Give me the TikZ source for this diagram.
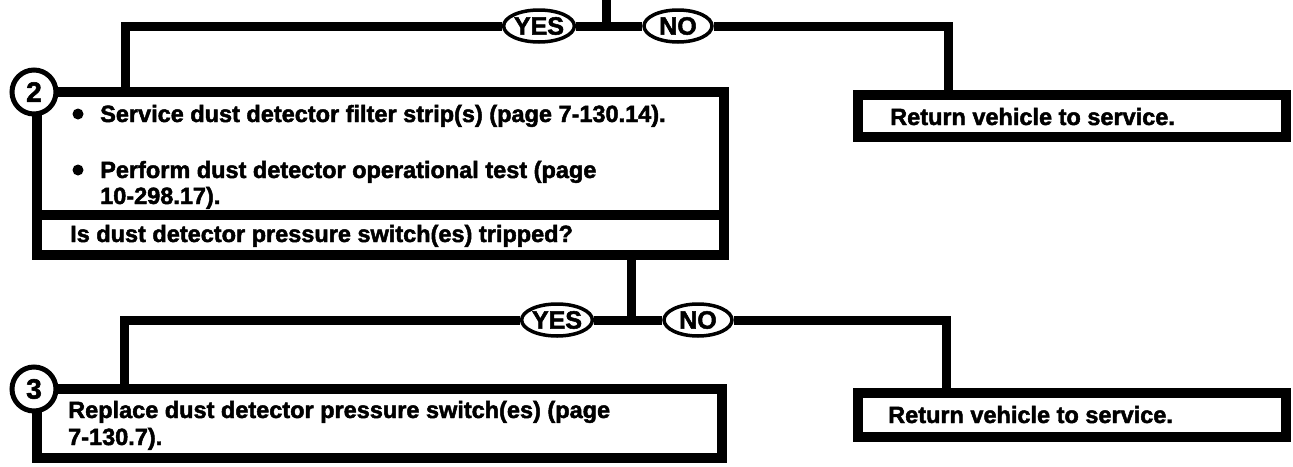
\documentclass[tikz,border=0pt]{standalone}
\usepackage{fontspec}
\setmainfont{Liberation Sans}[BoldFeatures={FakeBold=2}]
\usetikzlibrary{shapes.geometric}
\begin{document}
\begin{tikzpicture}[x=1pt,y=-1pt,
  conn/.style={line width=9pt, line join=miter},
  box/.style={draw, rectangle, line width=10pt, inner sep=0pt},
  txt/.style={font=\fontsize{23.5}{26}\selectfont\bfseries, inner sep=0pt, anchor=base west},
  bul/.style={circle, fill=black, inner sep=0pt, minimum size=11pt},
  dec/.style={ellipse, draw, line width=3.5pt, fill=white, minimum width=68pt, minimum height=32pt, inner sep=0pt, font=\fontsize{25}{26}\selectfont\bfseries},
  num/.style={circle, draw, line width=5pt, fill=white, minimum size=44pt, inner sep=0pt, font=\fontsize{28}{28}\selectfont\bfseries}]
\useasboundingbox[fill=white] (0,0) rectangle (1293,466);

% boxes
\node[box, minimum width=687pt, minimum height=123pt] (box2) at (380.5,153.5) {};
\node[box, minimum width=687pt, minimum height=40pt] (q2) at (380.5,235) {};
\node[box, minimum width=428pt, minimum height=42pt] (ret1) at (1072,116) {};
\node[box, minimum width=685pt, minimum height=69pt] (box3) at (379.5,423.5) {};
\node[box, minimum width=428pt, minimum height=44pt] (ret2) at (1072,415) {};

% texts
\node[bul] (b2a) at (78,114) {};
\node[txt] (t2a) at (100,122) {Service dust detector filter strip(s) (page 7-130.14).};
\node[bul] (b2b) at (78,170) {};
\node[txt] (t2b) at (100,178) {Perform dust detector operational test (page};
\node[txt] (t2c) at (100,204) {10-298.17).};
\node[txt] (tq2) at (70,242) {Is dust detector pressure switch(es) tripped?};
\node[txt] (tr1) at (890,125) {Return vehicle to service.};
\node[txt] (t3a) at (68,418) {Replace dust detector pressure switch(es) (page};
\node[txt] (t3b) at (68,445) {7-130.7).};
\node[txt] (tr2) at (888,423) {Return vehicle to service.};

% decisions
\node[dec] (yes1) at (539,26) {YES};
\node[dec] (no1) at (678,26) {NO};
\node[dec] (yes2) at (557,320) {YES};
\node[dec] (no2) at (698,320) {NO};

% connector coordinates
\coordinate (in1) at (606,0);
\coordinate (j1) at (606,26);
\coordinate (b2in) at (125,92);
\coordinate (r1in) at (948,95);
\coordinate (j2top) at (631,255);
\coordinate (j2) at (631,320);
\coordinate (b3in) at (124,389);
\coordinate (r2in) at (946,393);

\draw[conn] (in1) -- (j1);
\draw[conn] (yes1.east) -- (no1.west);
\draw[conn] (yes1.west) -| (b2in);
\draw[conn] (no1.east) -| (r1in);
\draw[conn] (j2top) -- (j2);
\draw[conn] (yes2.east) -- (no2.west);
\draw[conn] (yes2.west) -| (b3in);
\draw[conn] (no2.east) -| (r2in);

% step numbers
\node[num] (n2) at (34,92) {2};
\node[num] (n3) at (34,389) {3};
\end{tikzpicture}
\end{document}
